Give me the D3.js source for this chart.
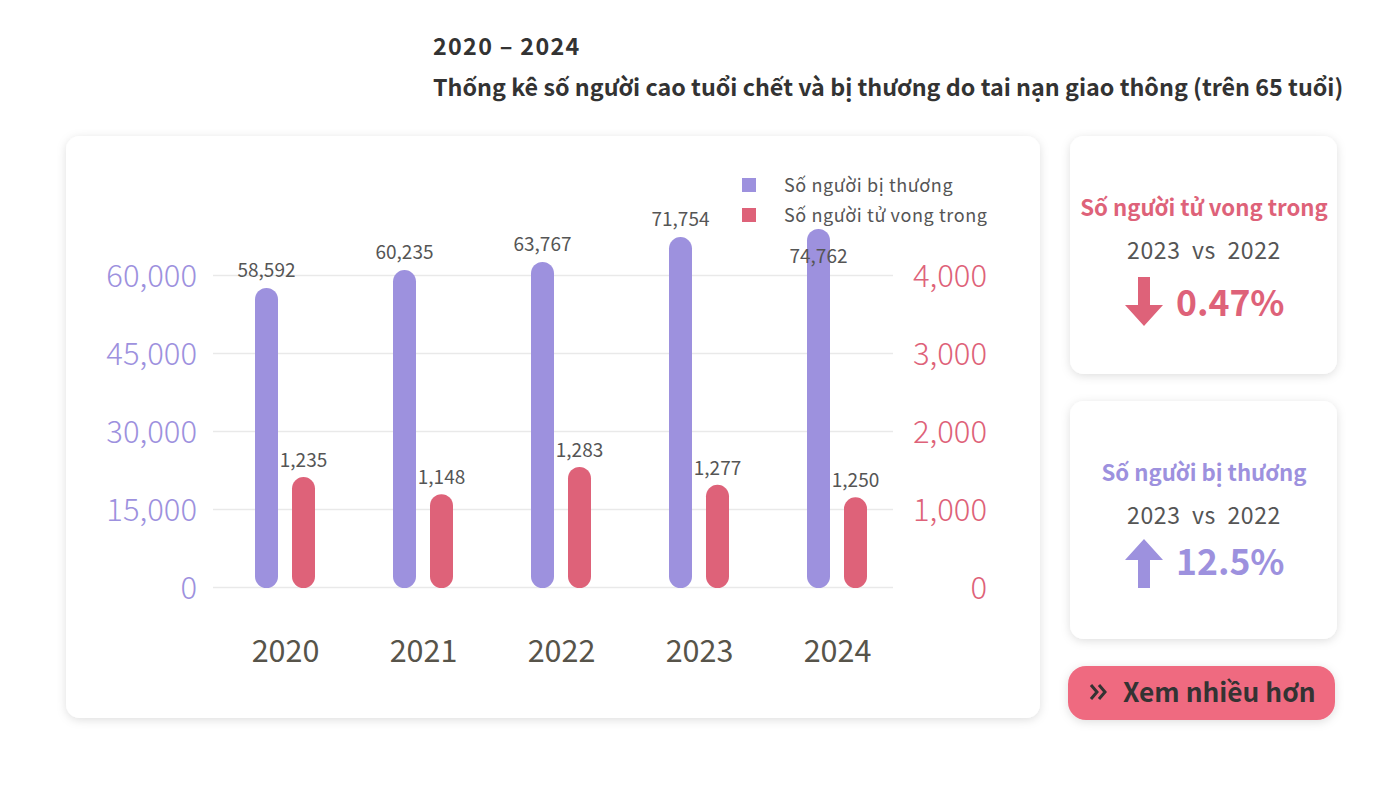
<!DOCTYPE html>
<html><head><meta charset="utf-8">
<script src="https://cdn.jsdelivr.net/npm/d3@7"></script>
<style>
html,body{margin:0;padding:0;background:#fff;}
svg{display:block;font-family:"Noto Sans CJK JP","Source Sans Pro","Noto Sans",sans-serif;}
</style></head>
<body>
<svg id="c" width="1400" height="790"></svg>
<script>
// ---- data ----
const years = ["2020","2021","2022","2023","2024"];
const injured = [58592, 60235, 63767, 71754, 74762];        // value labels
const deaths = [1235, 1148, 1283, 1277, 1250];               // value labels
const injuredBarHeights = [57500, 60950, 62500, 67300, 68850]; // bar lengths as drawn
const deathsBarHeights = [1410, 1190, 1540, 1310, 1150];
const leftTicks = [0, 15000, 30000, 45000, 60000];
const rightTicks = [0, 1000, 2000, 3000, 4000];
const seriesNames = ["Số người bị thương", "Số người tử vong trong"];
const titleLine1 = "2020 – 2024";
const titleLine2 = "Thống kê số người cao tuổi chết và bị thương do tai nạn giao thông (trên 65 tuổi)";
const cards = [
  {title: "Số người tử vong trong", compare: "2023  vs  2022", value: "0.47%", dir: "down"},
  {title: "Số người bị thương", compare: "2023  vs  2022", value: "12.5%", dir: "up"}
];
const buttonText = "Xem nhiều hơn";

const FONT = '"Noto Sans CJK JP","Source Sans Pro","Noto Sans",sans-serif';
const PURPLE = "#9d91de", RED = "#de6279";
const svg = d3.select("#c");
const defs = svg.append("defs");
const f = defs.append("filter").attr("id","sh").attr("x","-10%").attr("y","-10%").attr("width","120%").attr("height","130%");
f.append("feDropShadow").attr("dx",0).attr("dy",2).attr("stdDeviation",5).attr("flood-color","#000").attr("flood-opacity",0.13);

// titles
svg.append("text").attr("x",433).attr("y",55).attr("font-size",23.3).attr("font-weight",700).attr("fill","#333").attr("letter-spacing",1.3).text(titleLine1);
svg.append("text").attr("x",433).attr("y",96).attr("font-size",23.3).attr("font-weight",700).attr("fill","#333").text(titleLine2);

// main card
svg.append("rect").attr("x",66).attr("y",136).attr("width",974).attr("height",582).attr("rx",14).attr("fill","#fff").attr("filter","url(#sh)");

// scales
const yL = d3.scaleLinear().domain([0,60000]).range([587,275]);
const yR = d3.scaleLinear().domain([0,4000]).range([587,275]);
const x = d3.scalePoint().domain(years).range([285,837]);
const barW = 23, off = 18.5;

// grid
const g = svg.append("g");
g.selectAll("line.grid").data(leftTicks).join("line").attr("class","grid")
  .attr("x1",213).attr("x2",893).attr("y1",d=>yL(d)+0.5).attr("y2",d=>yL(d)+0.5)
  .attr("stroke","#e9e9e9").attr("stroke-width",1.5);

// left axis
const axL = svg.append("g").attr("transform","translate(197,0)")
  .call(d3.axisLeft(yL).tickValues(leftTicks).tickSize(0).tickPadding(0).tickFormat(d3.format(",")))
  .attr("font-family",FONT).attr("font-size",31);
axL.select(".domain").remove();
axL.selectAll("text").attr("font-weight",300).attr("fill",PURPLE).attr("dy","0.38em");

// right axis
const axR = svg.append("g").attr("transform","translate(987,0)")
  .call(d3.axisLeft(yR).tickValues(rightTicks).tickSize(0).tickPadding(0).tickFormat(d3.format(",")))
  .attr("font-family",FONT).attr("font-size",31);
axR.select(".domain").remove();
axR.selectAll("text").attr("font-weight",300).attr("fill",RED).attr("dy","0.38em");

// x axis labels
const axX = svg.append("g").attr("transform","translate(0,651)")
  .call(d3.axisBottom(x).tickSize(0).tickPadding(0))
  .attr("font-family",FONT).attr("font-size",30.5);
axX.select(".domain").remove();
axX.selectAll("text").attr("font-weight",400).attr("fill","#57544a").attr("dy","0.36em");

// bars
const legendBox = {x0: 742, x1: 990, y1: 228};
svg.selectAll("rect.bi").data(years).join("rect").attr("class","bi")
  .attr("x",d=>x(d)-off-barW/2).attr("width",barW)
  .attr("y",(d,i)=>yL(injuredBarHeights[i])).attr("height",(d,i)=>yL(0)-yL(injuredBarHeights[i])+1)
  .attr("rx",barW/2).attr("fill",PURPLE);
svg.selectAll("rect.bd").data(years).join("rect").attr("class","bd")
  .attr("x",d=>x(d)+off-barW/2).attr("width",barW)
  .attr("y",(d,i)=>yR(deathsBarHeights[i])).attr("height",(d,i)=>yR(0)-yR(deathsBarHeights[i])+1)
  .attr("rx",barW/2).attr("fill",RED);

// value labels
const fmt = d3.format(",");
svg.selectAll("text.li").data(years).join("text").attr("class","li")
  .attr("x",d=>x(d)-off).attr("text-anchor","middle")
  .attr("y",(d,i)=>{
    const top = yL(injuredBarHeights[i]);
    const above = top - 11;
    const cx = x(d)-off;
    // avoid the legend: put label just inside the bar top
    if (cx + 30 > legendBox.x0 && above - 16 < legendBox.y1) return top + 34;
    return above;
  })
  .attr("font-size",19).attr("fill","#555").text((d,i)=>fmt(injured[i]));
svg.selectAll("text.ld").data(years).join("text").attr("class","ld")
  .attr("x",d=>x(d)+off).attr("text-anchor","middle")
  .attr("y",(d,i)=>yR(deathsBarHeights[i]) - 10)
  .attr("font-size",19).attr("fill","#555").text((d,i)=>fmt(deaths[i]));

// legend
const lg = svg.append("g");
seriesNames.forEach((n,i)=>{
  lg.append("rect").attr("x",742).attr("y",178+i*30).attr("width",14).attr("height",14).attr("fill",i?RED:PURPLE);
  lg.append("text").attr("x",784).attr("y",192+i*30).attr("font-size",18).attr("fill","#555").attr("letter-spacing",0.6).text(n);
});

// side cards
cards.forEach((c,i)=>{
  const y0 = i ? 401 : 136;
  const col = i ? PURPLE : RED;
  const cg = svg.append("g").attr("transform",`translate(1070,${y0})`);
  cg.append("rect").attr("width",267).attr("height",238).attr("rx",14).attr("fill","#fff").attr("filter","url(#sh)");
  cg.append("text").attr("x",134).attr("y",80).attr("text-anchor","middle").attr("font-size",22.2).attr("font-weight",700).attr("fill",col).text(c.title);
  cg.append("text").attr("x",134).attr("y",123).attr("text-anchor","middle").attr("font-size",23).attr("letter-spacing",0.6).attr("fill","#555").style("white-space","pre").text(c.compare);
  // arrow
  const ax = 74, aw = 38, sw = 12, hh = 21;
  let p;
  if (c.dir === "down") {
    const t = 141, b = 190;
    p = [[ax-sw/2,t],[ax+sw/2,t],[ax+sw/2,b-hh],[ax+aw/2,b-hh],[ax,b],[ax-aw/2,b-hh],[ax-sw/2,b-hh]];
  } else {
    const t = 138, b = 187;
    p = [[ax,t],[ax+aw/2,t+hh],[ax+sw/2,t+hh],[ax+sw/2,b],[ax-sw/2,b],[ax-sw/2,t+hh],[ax-aw/2,t+hh]];
  }
  cg.append("path").attr("d",d3.line()(p)+"Z").attr("fill",col);
  cg.append("text").attr("x",106).attr("y",i?174:180).attr("font-size",35.5).attr("font-weight",700).attr("fill",col).text(c.value);
});

// button
const bg = svg.append("g").attr("transform","translate(1068,666)");
bg.append("rect").attr("width",267).attr("height",54).attr("rx",18).attr("fill","#ef6b80").attr("filter","url(#sh)");
bg.append("path").attr("d","M23,19 L29,26 L23,33 M31,19 L37,26 L31,33").attr("fill","none").attr("stroke","#333").attr("stroke-width",3);
bg.append("text").attr("x",55).attr("y",36).attr("font-size",26.3).attr("font-weight",700).attr("fill","#333").text(buttonText);
</script>
</body></html>
